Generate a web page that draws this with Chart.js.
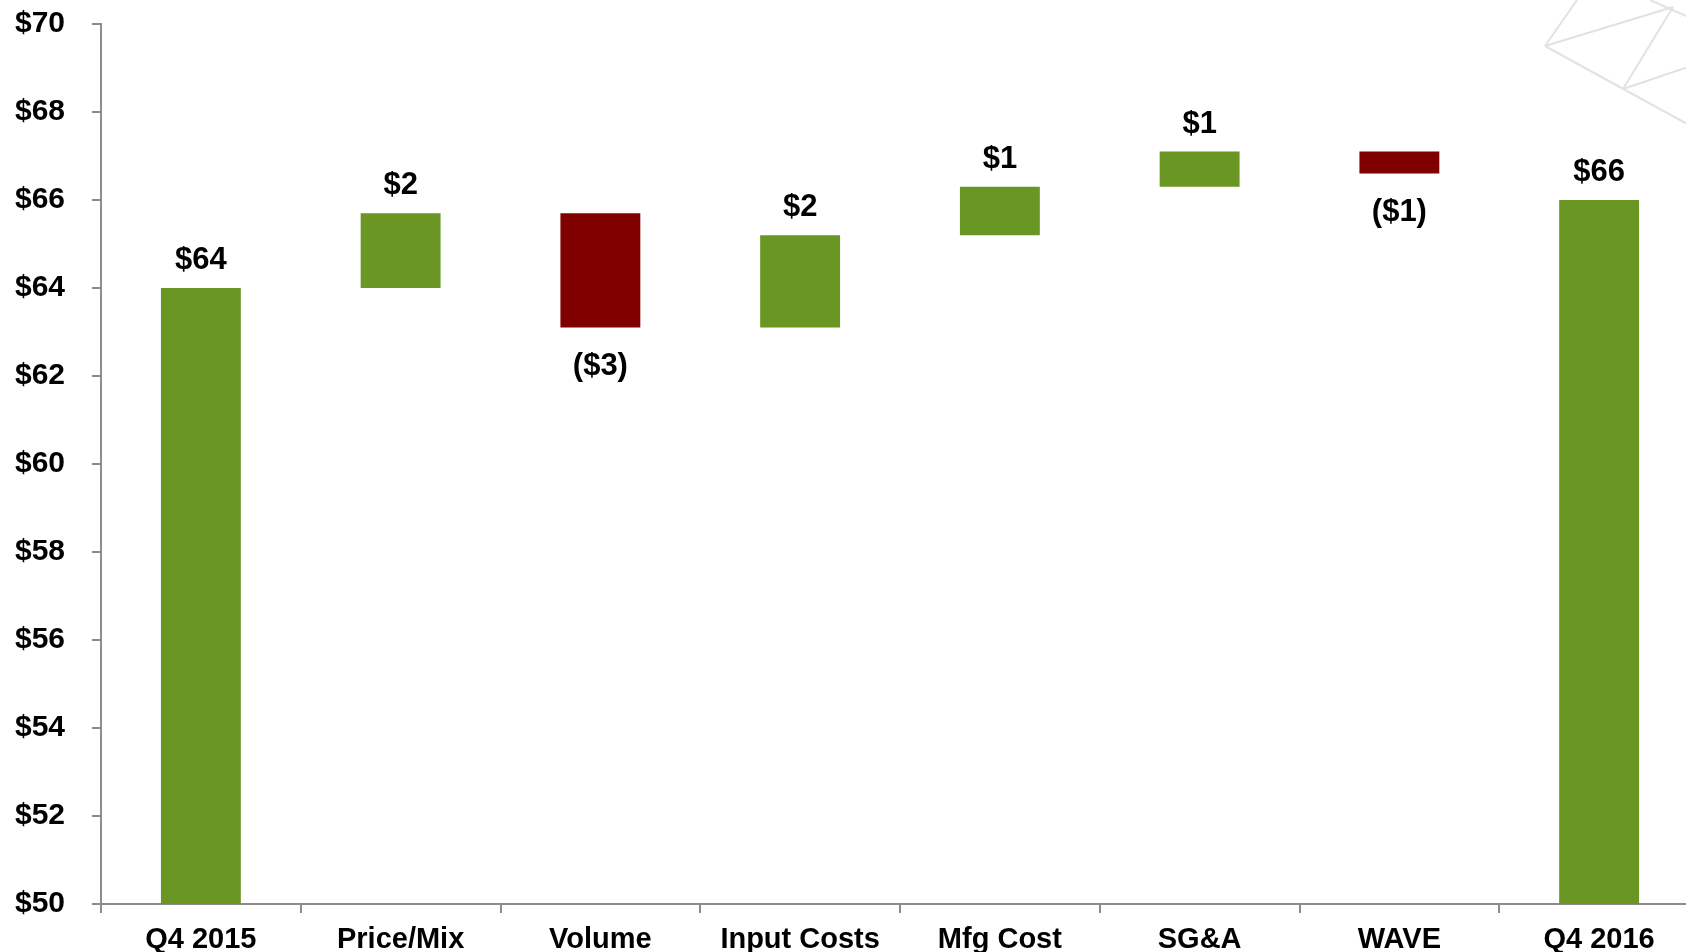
<!DOCTYPE html>
<html>
<head>
<meta charset="utf-8">
<script src="https://cdn.jsdelivr.net/npm/chart.js@4"></script>
<style>
  html, body { margin:0; padding:0; overflow:hidden; background:#fff; }
  #wrap { position:relative; width:1700px; height:952px; }
</style>
</head>
<body>
<div id="wrap"><canvas id="c"></canvas></div>
<script>
// ---- data ----
const categories = ["Q4 2015", "Price/Mix", "Volume", "Input Costs", "Mfg Cost", "SG&A", "WAVE", "Q4 2016"];
const barStarts  = [0,    64.0, 65.7, 63.1, 65.2, 66.3, 67.1, 0];
const barEnds    = [64.0, 65.7, 63.1, 65.2, 66.3, 67.1, 66.6, 66.0];
const valueLabels = ["$64", "$2", "($3)", "$2", "$1", "$1", "($1)", "$66"];
const yTickMin = 50, yTickMax = 70, yTickStep = 2;

const GREEN = "#6a9624", RED = "#800000";
const barData = categories.map((c, i) => [barStarts[i], barEnds[i]]);
const barColors = barData.map(([s, e]) => (e >= s ? GREEN : RED));

const FONT = "'Liberation Sans', Arial, Helvetica, sans-serif";

const deco = {
  id: 'deco',
  beforeDraw(chart) {
    const ctx = chart.ctx;
    ctx.save();
    ctx.strokeStyle = '#e2e2e2';
    ctx.lineWidth = 2;
    const segs = [
      [[1545,46],[1577,0]],
      [[1545,46],[1673,7]],
      [[1545,46],[1700,131]],
      [[1623,89],[1673,7]],
      [[1623,89],[1700,63]],
      [[1650,0],[1700,22]]
    ];
    segs.forEach(([a,b]) => { ctx.beginPath(); ctx.moveTo(a[0],a[1]); ctx.lineTo(b[0],b[1]); ctx.stroke(); });
    ctx.restore();
  }
};

const valueLabelPlugin = {
  id: 'valueLabels',
  afterDatasetsDraw(chart) {
    const ctx = chart.ctx;
    const meta = chart.getDatasetMeta(0);
    const y = chart.scales.y;
    ctx.save();
    ctx.font = "bold 31px " + FONT;
    ctx.fillStyle = "#000";
    ctx.textAlign = "center";
    ctx.textBaseline = "alphabetic";
    meta.data.forEach((el, i) => {
      const [s, e] = barData[i];
      const top = y.getPixelForValue(Math.max(s, e));
      const bot = y.getPixelForValue(Math.min(s, e));
      if (e >= s) ctx.fillText(valueLabels[i], el.x, top - 19);
      else ctx.fillText(valueLabels[i], el.x, bot + 47);
    });
    ctx.restore();
  }
};

new Chart(document.getElementById('c'), {
  type: 'bar',
  data: {
    labels: categories,
    datasets: [{
      data: barData,
      backgroundColor: barColors,
      borderWidth: 0,
      barPercentage: 0.4,
      categoryPercentage: 1.0
    }]
  },
  options: {
    responsive: true,
    maintainAspectRatio: false,
    animation: false,
    events: [],
    layout: { autoPadding: false, padding: { top: 24, left: 0, right: 1, bottom: 0 } },
    plugins: { legend: { display: false }, tooltip: { enabled: false } },
    scales: {
      x: {
        grid: { display: true, drawOnChartArea: false, offset: true, color: '#8c8c8c', lineWidth: 2, tickLength: 9 },
        border: { display: true, color: '#8c8c8c', width: 2 },
        ticks: { color: '#000', font: { family: FONT, size: 29, weight: 'bold' }, padding: 10, maxRotation: 0, autoSkip: false },
        afterFit(s) { s.height = 952 - 24 - 880; s.paddingLeft = 0; s.paddingRight = 0; }
      },
      y: {
        min: yTickMin, max: yTickMax,
        grid: { display: true, drawOnChartArea: false, color: '#8c8c8c', lineWidth: 2, tickLength: 9 },
        border: { display: true, color: '#8c8c8c', width: 2 },
        ticks: { stepSize: yTickStep, color: '#000', font: { family: FONT, size: 30, weight: 'bold' }, padding: 27,
                 callback: v => '$' + v },
        afterFit(s) { s.width = 101; s.paddingTop = 0; s.paddingBottom = 0; }
      }
    }
  },
  plugins: [deco, valueLabelPlugin]
});
</script>
</body>
</html>
